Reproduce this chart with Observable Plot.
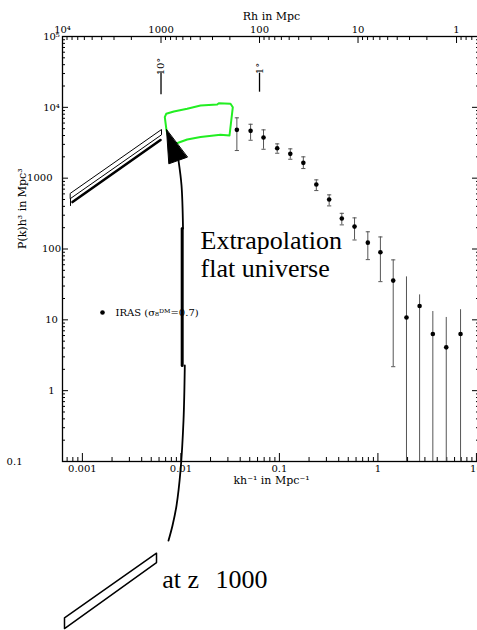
<!DOCTYPE html>
<html><head><meta charset="utf-8">
<script src="https://cdn.jsdelivr.net/npm/d3@7"></script>
<script src="https://cdn.jsdelivr.net/npm/@observablehq/plot@0.6"></script>
<style>html,body{margin:0;padding:0;overflow:hidden;background:#fff}</style>
</head><body><div id="chart"></div>
<script>
// IRAS power spectrum points
const kValues = [0.037, 0.051, 0.069, 0.095, 0.129, 0.175, 0.237, 0.320, 0.430, 0.579, 0.790, 1.06, 1.43, 1.95, 2.65, 3.61, 4.94, 6.90];
const pValues = [4808, 4656, 3745, 2644, 2203, 1644, 812, 499, 269, 207, 123, 89.8, 35.8, 10.8, 15.7, 6.32, 4.09, 6.32];
const pHigh   = [7108, 5770, 4808, 3050, 2594, 2000, 946, 581, 319, 275, 175, 148, 70.2, 40.4, 22.5, 13.1, 10.8, 13.9];
const pLow    = [2455, 3430, 2560, 2248, 1849, 1367, 668, 406, 219, 134, 70.8, 34.6, 2.18, 0.1, 0.1, 0.1, 0.1, 0.1];

// COBE box (green outline)
const cobeK = [0.006866, 0.007096, 0.008477, 0.011592, 0.015822, 0.023375, 0.024266, 0.031897, 0.033661, 0.031160, 0.025249, 0.015822, 0.011592, 0.007847, 0.007146];
const cobeP = [7255, 8102, 8733, 9534, 10613, 10964, 11438, 11217, 10042, 4002, 4094, 3812, 3514, 2892, 4709];

// extrapolation band (upper) and band at z~1000 (lower)
const bandK = [0.0007574, 0.006358, 0.006358, 0.0007574];
const bandP = [613.4, 4864, 4095, 516.2];
const bandEdgeK = [0.0007574, 0.0007574];
const bandEdgeP = [516.2, 411];
const bandThickK = [0.0007937, 0.006212];
const bandThickP = [460.7, 3457];
const lowBandK = [0.0006583, 0.005656, 0.005656, 0.0006583];
const lowBandP = [0.0006208, 0.005071, 0.003748, 0.0004385];

// curved arrow
const arrowLowK = [0.01096, 0.01063, 0.009913, 0.009028, 0.008222, 0.007488];
const arrowLowP = [2.265, 0.379, 0.07458, 0.0239, 0.01248, 0.00766];
const arrowUpK = [0.00946, 0.01015, 0.01051];
const arrowUpP = [1775, 787.8, 194.7];
const arrowThickK = [0.01031, 0.01031];
const arrowThickP = [194.7, 2.265];
const headK = [0.007145, 0.007542, 0.01159];
const headP = [4818, 1594, 1977];

// angle markers
const angleLabels = ["10°", "1°"];
const angleR = [1000, 100];
const angleLineTop = [30340, 30340];
const angleLineBottom = [15030, 16360];
const angleTextP = [37700, 35320];

// texts
const bigTexts = ["Extrapolation", "flat universe", "at z", "1000"];
const bigTextK = [0.01582, 0.01582, 0.006462, 0.02246];
const bigTextP = [101.6, 40.0, 0.001647, 0.001647];
const legendLabel = "IRAS (σ₈ᴰᴹ=0.7)";
const legendK = [0.0016, 0.002169];
const legendP = 12.69;

// axes
const kMajorTicks = [0.001, 0.01, 0.1, 1, 10];
const kTickLabels = ["0.001", "0.01", "0.1", "1", "10"];
const rMajorTicks = [10000, 1000, 100, 10, 1];
const rTickLabels = ["10⁴", "1000", "100", "10", "1"];
const pMajorTicks = [1e5, 1e4, 1000, 100, 10, 1, 0.1];
const pTickLabels = ["10⁵", "10⁴", "1000", "100", "10", "1", "0.1"];
const xDomain = [2 * Math.PI * 1e-4, 11];
const yDomain = [0.1, 1e5];

function minors(lo, hi) { const out = []; for (let e = lo; e <= hi; e++) for (let m = 2; m <= 9; m++) out.push(m * Math.pow(10, e)); return out; }
const inX = k => k >= xDomain[0] && k <= xDomain[1];
const kMinor = minors(-4, 1).filter(inX);
const rMajorK = rMajorTicks.map(R => 2 * Math.PI / R);
const rMinorK = minors(-1, 3).map(R => 2 * Math.PI / R).filter(inX);
const pMinor = minors(-1, 4);

const kLabels = kMajorTicks.map((k, i) => ({k, t: kTickLabels[i]}));
const rLabels = rMajorK.map((k, i) => ({k, t: rTickLabels[i]}));
const pLabels = pMajorTicks.map((p, i) => ({p, t: pTickLabels[i]}));
const pLabelsMid = pLabels.filter(d => d.p !== 1000 && d.p !== 0.1);
const pLabel1000 = pLabels.filter(d => d.p === 1000);
const pLabel01 = pLabels.filter(d => d.p === 0.1);

const points = kValues.map((k, i) => ({k, p: pValues[i], hi: pHigh[i], lo: pLow[i]}));
const capped = points.filter(d => d.lo > 0.1);
const zip = (K, P) => K.map((k, i) => ({k, p: P[i]}));
const cobe = zip(cobeK, cobeP);
const angles = angleLabels.map((t, i) => ({t, k: 2 * Math.PI / angleR[i], top: angleLineTop[i], bot: angleLineBottom[i], tp: angleTextP[i]}));
const texts = bigTexts.map((t, i) => ({t, k: bigTextK[i], p: bigTextP[i]}));
const id = d => d;

// layout
const W = 477, H = 630, mL = 62, mR = -3, mT = 36, mB = 169;
const iw = W - mL - mR, ih = H - mT - mB;
const xDec = iw / Math.log10(xDomain[1] / xDomain[0]); // px per decade
const yDec = ih / Math.log10(yDomain[1] / yDomain[0]);
const fx = len => Math.pow(10, len / xDec);
const fy = len => Math.pow(10, len / yDec);

// inward tick marks: records with both ends, drawn through the log scales
const tickRows = (vals, side, len) => vals.map(v => {
  if (side === "bottom") return {x1: v, x2: v, y1: yDomain[0], y2: yDomain[0] * fy(len)};
  if (side === "top") return {x1: v, x2: v, y1: yDomain[1] / fy(len), y2: yDomain[1]};
  if (side === "left") return {x1: xDomain[0], x2: xDomain[0] * fx(len), y1: v, y2: v};
  return {x1: xDomain[1] / fx(len), x2: xDomain[1], y1: v, y2: v};
});
const vTicks = [
  ...tickRows(kMajorTicks, "bottom", 8), ...tickRows(kMinor, "bottom", 4),
  ...tickRows(rMajorK, "top", 7), ...tickRows(rMinorK, "top", 4)
];
const hTicks = [
  ...tickRows(pMajorTicks, "left", 6), ...tickRows(pMinor, "left", 3),
  ...tickRows(pMajorTicks, "right", 8), ...tickRows(pMinor, "right", 4)
];

const chart = Plot.plot({
  width: W, height: H,
  marginLeft: mL, marginRight: mR, marginTop: mT, marginBottom: mB,
  style: {fontFamily: "DejaVu Serif", fontSize: "10px", background: "white"},
  x: {type: "log", domain: xDomain, axis: null},
  y: {type: "log", domain: yDomain, axis: null},
  marks: [
    Plot.frame({stroke: "black", strokeWidth: 1.3}),
    // ticks (inward)
    Plot.ruleX(vTicks, {x: "x1", y1: "y1", y2: "y2", stroke: "black", strokeWidth: 1}),
    Plot.ruleY(hTicks, {y: "y1", x1: "x1", x2: "x2", stroke: "black", strokeWidth: 1}),
    // tick labels
    Plot.text(kLabels, {x: "k", text: "t", frameAnchor: "bottom", dy: 3, lineAnchor: "top", fontSize: 10}),
    Plot.text(rLabels, {x: "k", text: "t", frameAnchor: "top", dy: -4, lineAnchor: "bottom", fontSize: 10}),
    Plot.text(pLabelsMid, {y: "p", text: "t", frameAnchor: "left", dx: -11, textAnchor: "middle", fontSize: 10}),
    Plot.text(pLabel1000, {y: "p", text: "t", frameAnchor: "left", dx: -10, textAnchor: "end", fontSize: 10}),
    Plot.text(pLabel01, {y: "p", text: "t", frameAnchor: "left", dx: -40, textAnchor: "end", fontSize: 10}),
    // axis titles
    Plot.text(["Rh in Mpc"], {frameAnchor: "top", dy: -17, lineAnchor: "bottom", fontSize: 11}),
    Plot.text(["kh⁻¹ in Mpc⁻¹"], {frameAnchor: "bottom", dy: 22, lineAnchor: "bottom", fontSize: 11}),
    Plot.text(["P(k)h³ in Mpc³"], {frameAnchor: "left", dx: -40, rotate: -90, fontSize: 11}),
    // angle markers
    Plot.ruleX(angles, {x: "k", y1: "bot", y2: "top", stroke: "black", strokeWidth: 1.3}),
    Plot.text(angles, {x: "k", y: "tp", text: "t", rotate: -90, fontSize: 10}),
    // error bars
    Plot.ruleX(points, {x: "k", y1: "lo", y2: "hi", stroke: "#555", strokeWidth: 1}),
    Plot.link(capped, {x1: d => d.k / 1.05, x2: d => d.k * 1.05, y1: "hi", y2: "hi", stroke: "#555", strokeWidth: 1}),
    Plot.link(capped, {x1: d => d.k / 1.05, x2: d => d.k * 1.05, y1: "lo", y2: "lo", stroke: "#555", strokeWidth: 1}),
    Plot.dot(points, {x: "k", y: "p", r: 2.3, fill: "black", stroke: null}),
    // legend
    Plot.dot([legendP], {x: legendK[0], y: id, r: 2.3, fill: "black", stroke: null}),
    Plot.text([legendLabel], {x: legendK[1], y: legendP, textAnchor: "start", fontSize: 10}),
    // COBE box
    Plot.line(cobe, {x: "k", y: "p", curve: "linear-closed", stroke: "#22ee22", strokeWidth: 2}),
    // bands
    Plot.line(zip(bandK, bandP), {x: "k", y: "p", curve: "linear-closed", stroke: "black", strokeWidth: 1}),
    Plot.line(zip(bandEdgeK, bandEdgeP), {x: "k", y: "p", stroke: "black", strokeWidth: 1}),
    Plot.line(zip(bandThickK, bandThickP), {x: "k", y: "p", stroke: "black", strokeWidth: 2.6}),
    Plot.line(zip(lowBandK, lowBandP), {x: "k", y: "p", curve: "linear-closed", stroke: "black", strokeWidth: 1.5}),
    // curved arrow
    Plot.line(zip(arrowLowK, arrowLowP), {x: "k", y: "p", curve: "catmull-rom", stroke: "black", strokeWidth: 1.8}),
    Plot.line(zip(arrowUpK, arrowUpP), {x: "k", y: "p", curve: "catmull-rom", stroke: "black", strokeWidth: 1.8}),
    Plot.line(zip(arrowThickK, arrowThickP), {x: "k", y: "p", stroke: "black", strokeWidth: 3}),
    Plot.line(zip(headK, headP), {x: "k", y: "p", curve: "linear-closed", stroke: "black", fill: "black", strokeWidth: 1}),
    // annotation texts
    Plot.text(texts, {x: "k", y: "p", text: "t", textAnchor: "start", lineAnchor: "bottom", fontFamily: "Liberation Serif", fontSize: 26})
  ]
});
document.getElementById("chart").appendChild(chart);
</script>
</body></html>
